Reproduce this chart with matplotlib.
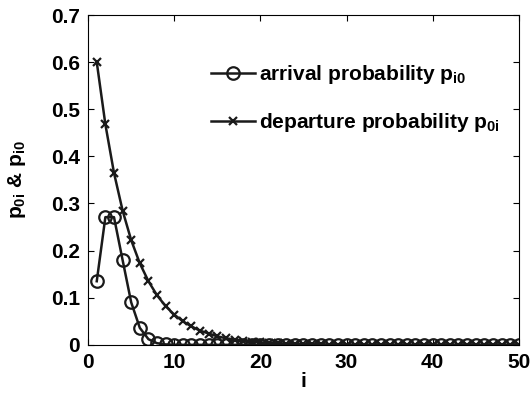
import numpy as np
import matplotlib.pyplot as plt

plt.rcParams['font.family'] = 'Liberation Sans'
plt.rcParams['font.weight'] = 'bold'
plt.rcParams['mathtext.fontset'] = 'custom'
plt.rcParams['mathtext.bf'] = 'Liberation Sans:bold'
plt.rcParams['mathtext.rm'] = 'Liberation Sans:bold'
plt.rcParams['mathtext.default'] = 'bf'

i = np.arange(1, 51)
arrival = [0.135, 0.271, 0.271, 0.180, 0.090, 0.036, 0.012, 0.0034, 0.0009, 0.0002] + [0.0] * 40
departure = [0.600, 0.468, 0.365, 0.285, 0.222, 0.173, 0.135, 0.105, 0.082, 0.064,
             0.050, 0.039, 0.030, 0.024, 0.018, 0.014, 0.011, 0.0087, 0.0068, 0.0053,
             0.0041, 0.0032, 0.0025, 0.0020, 0.0015, 0.0012, 0.0009, 0.0007, 0.0006, 0.0004,
             0.0003, 0.0003, 0.0002, 0.0002, 0.0001] + [0.0] * 15

fig = plt.figure(figsize=(5.31, 3.95), dpi=100)
ax = fig.add_axes([0.166, 0.127, 0.811, 0.835])

ax.plot(i, arrival, '-o', color='#1a1a1a', lw=1.8, ms=9, mfc='none', mew=1.6,
        label=r'arrival probability p$_{i0}$')
ax.plot(i, departure, '-x', color='#1a1a1a', lw=1.8, ms=6, mew=1.6,
        label=r'departure probability p$_{0i}$')

ax.set_xlim(0, 50)
ax.set_ylim(0, 0.7)
ax.set_xticks([0, 10, 20, 30, 40, 50])
ax.set_yticks([0, 0.1, 0.2, 0.3, 0.4, 0.5, 0.6, 0.7])
ax.set_yticklabels(['0', '0.1', '0.2', '0.3', '0.4', '0.5', '0.6', '0.7'])
ax.tick_params(direction='in', length=4, labelsize=15, width=0.8, top=True, right=True, pad=6)
for t in ax.get_xticklabels() + ax.get_yticklabels():
    t.set_fontweight('bold')
ax.set_xlabel('i', fontsize=15, fontweight='bold', labelpad=0)
ax.set_ylabel(r'p$_{0i}$ & p$_{i0}$', fontsize=15, fontweight='bold', labelpad=16)

leg = ax.legend(loc='upper right', bbox_to_anchor=(1.0, 0.91), frameon=False,
                fontsize=15, handlelength=2.1, handletextpad=0.2, labelspacing=1.2)
for t in leg.get_texts():
    t.set_fontweight('bold')

fig.savefig('out.png', dpi=100)
